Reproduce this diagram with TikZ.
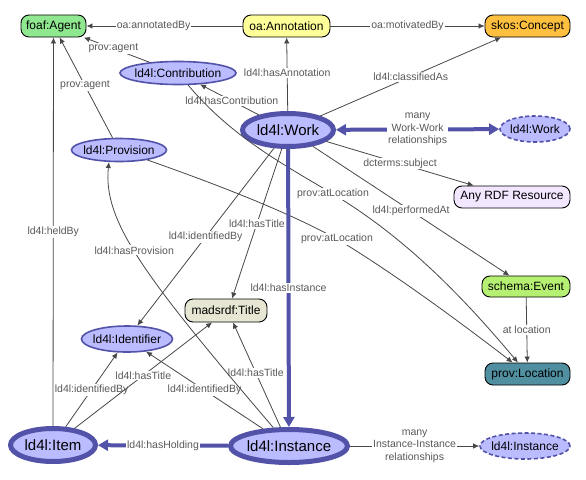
\documentclass[tikz,border=0pt]{standalone}
\usepackage{fontspec}
\setmainfont{Liberation Sans}
\usetikzlibrary{arrows.meta,shapes.geometric}
\definecolor{agentgreen}{HTML}{8FE88F}
\definecolor{annotyellow}{HTML}{FFFF99}
\definecolor{conceptorange}{HTML}{FFBF3F}
\definecolor{rdflilac}{HTML}{F3E6FF}
\definecolor{eventgreen}{HTML}{B5F072}
\definecolor{locteal}{HTML}{4F8FA0}
\definecolor{titlebeige}{HTML}{E6E6D2}
\definecolor{resfill}{HTML}{BBBBFF}
\definecolor{resblue}{HTML}{5252A8}
\tikzset{
    cls/.style={
        draw,
        rounded corners=8pt,
        inner sep=0pt,
        minimum height=22pt,
        line width=0.9pt,
        font=\fontsize{12}{14}\selectfont
    },
    res/.style={
        ellipse,
        draw=resblue,
        fill=resfill,
        line width=1.6pt,
        inner sep=0pt,
        minimum height=23pt,
        font=\fontsize{12}{14}\selectfont
    },
    mainres/.style={
        res,
        line width=5pt,
        minimum height=33pt,
        font=\fontsize{15}{17}\selectfont
    },
    extres/.style={res, dash pattern=on 4pt off 2.5pt, minimum height=26pt},
    rel/.style={-{Latex[length=6pt,width=5.5pt]}, draw=black!72, line width=0.8pt},
    mainrel/.style={-{Triangle[length=10pt,width=11pt]}, draw=resblue, line width=4pt},
    bothrel/.style={mainrel, {Triangle[length=10pt,width=11pt]}-{Triangle[length=10pt,width=11pt]}},
    lbl/.style={
        fill=white,
        text=black!65,
        inner sep=1pt,
        align=center,
        font=\fontsize{10.5}{12.5}\selectfont
    }
}
\newcommand{\rn}[1]{\makebox[0pt]{#1}}
\begin{document}
\begin{tikzpicture}[x=1pt,y=-1pt]
    \useasboundingbox (0,0) rectangle (586,479);

    % classes
    \node[cls, fill=agentgreen, minimum width=65pt] (agent) at (53.5,26) {foaf:Agent};
    \node[cls, fill=annotyellow, minimum width=87pt] (annot) at (286.5,26) {oa:Annotation};
    \node[cls, fill=conceptorange, minimum width=85pt] (concept) at (527.5,26) {skos:Concept};
    \node[cls, fill=rdflilac, minimum width=116pt] (rdf) at (512,197) {Any RDF Resource};
    \node[cls, fill=eventgreen, minimum width=88pt, minimum height=21pt] (event) at (526,286.5) {schema:Event};
    \node[cls, fill=locteal, minimum width=85pt] (loc) at (527.5,374) {prov:Location};
    \node[cls, fill=titlebeige, minimum width=82pt, minimum height=23pt] (title) at (226,310.5) {madsrdf:Title};

    % ld4l resources
    \node[res, minimum width=116pt] (contrib) at (178,73) {\rn{ld4l:Contribution}};
    \node[res, minimum width=95pt] (prov) at (119,150) {\rn{ld4l:Provision}};
    \node[res, minimum width=91pt, minimum height=26pt] (ident) at (127,339) {\rn{ld4l:Identifier}};
    \node[mainres, minimum width=91pt] (work) at (288,130) {\rn{ld4l:Work}};
    \node[mainres, minimum width=85pt] (item) at (53,445) {\rn{ld4l:Item}};
    \node[mainres, minimum width=117pt] (inst) at (289,446) {\rn{ld4l:Instance}};
    \node[extres, minimum width=70pt] (workd) at (535,129) {\rn{ld4l:Work}};
    \node[extres, minimum width=90pt] (instd) at (525,446) {\rn{ld4l:Instance}};

    \draw[rel] (annot) -- node[lbl, pos=.57] {oa:annotatedBy} (agent);
    \draw[rel] (annot) -- node[lbl] {oa:motivatedBy} (concept);
    \draw[rel] (contrib) -- node[lbl, pos=.55] {prov:agent} (agent);
    \draw[rel] (prov) -- node[lbl, pos=.52] {prov:agent} (agent);
    \draw[rel] (item) -- node[lbl] {ld4l:heldBy} (agent);
    \draw[rel] (work) -- node[lbl, pos=.52] {ld4l:hasAnnotation} (annot);
    \draw[rel] (work) -- node[lbl] {ld4l:classifiedAs} (concept);
    \draw[rel] (work) -- node[lbl, pos=.46] {ld4l:hasContribution} (contrib);
    \draw[rel] (work) -- node[lbl] {dcterms:subject} (rdf);
    \draw[rel] (work) -- node[lbl] {ld4l:performedAt} (event);
    \draw[rel] (contrib) .. controls (230,135) and (279,162) .. (333,194) node[lbl] {prov:atLocation}
        .. controls (406,238) and (463,297) .. (loc);
    \draw[rel] (prov) .. controls (210,182) and (284,210) .. (337,239) node[lbl] {prov:atLocation}
        .. controls (397,275) and (469,329) .. (loc);
    \draw[rel] (event) -- node[lbl] {at location} (loc);
    \draw[rel] (work) -- node[lbl] {ld4l:hasTitle} ([xshift=6pt]title.north);
    \draw[rel] (work) -- node[lbl] {ld4l:identifiedBy} (ident);
    \draw[mainrel] (work) -- node[lbl] {ld4l:hasInstance} (inst);
    \draw[bothrel] (work) -- node[lbl] {many\\Work-Work\\relationships} (workd);
    \draw[rel] (inst) -- node[lbl, pos=.52] {ld4l:hasTitle} ([xshift=7pt]title.south);
    \draw[rel] (inst) -- node[lbl] {ld4l:identifiedBy} (ident);
    \draw[rel] (inst) .. controls (143,275) and (103,221) .. (prov.-130) node[lbl, pos=.54] {ld4l:hasProvision};
    \draw[rel] (item) -- node[lbl] {ld4l:identifiedBy} (ident);
    \draw[rel] (item) -- node[lbl] {ld4l:hasTitle} ([xshift=-14pt]title.south);
    \draw[mainrel] (inst) -- node[lbl] {ld4l:hasHolding} (item);
    \draw[rel] (inst) -- node[lbl] {many\\Instance-Instance\\relationships} (instd);
\end{tikzpicture}
\end{document}
